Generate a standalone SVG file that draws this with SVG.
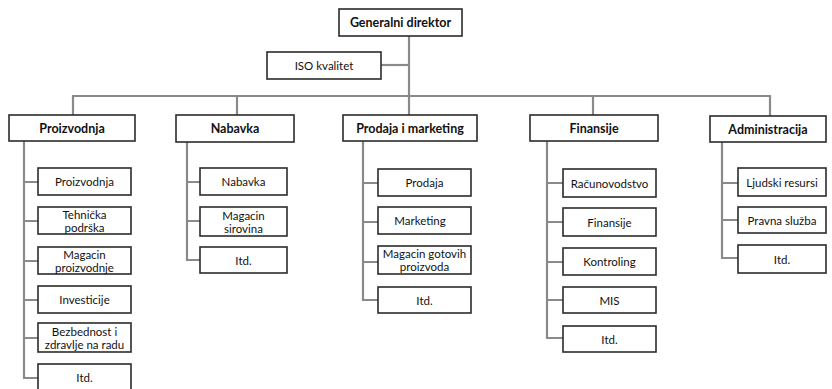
<svg xmlns="http://www.w3.org/2000/svg" width="832" height="389" viewBox="0 0 832 389">
  <style>
    .box { fill: #ffffff; stroke: #2b2b2b; stroke-width: 1.6; }
    .wire { fill: none; stroke: #8a8a8a; stroke-width: 2.2; }
    .t { font-family: Lato, "Liberation Sans", Arial, sans-serif; font-size: 11.5px; fill: #111111; text-anchor: middle; dominant-baseline: central; }
    .h { font-weight: bold; font-size: 12.5px; }
  </style>

  <!-- connectors -->
  <g id="connectors" class="wire">
    <!-- director to departments -->
    <path d="M409 36 V115"/>
    <path d="M381 65 H409"/>
    <path d="M73 115 V96 H770 V116"/>
    <path d="M237 96 V115"/>
    <path d="M593 96 V115"/>
    <!-- Proizvodnja sub-units -->
    <path d="M24 141 V378 H38"/>
    <path d="M24 182 H38 M24 221 H38 M24 261 H38 M24 300 H38 M24 338 H38"/>
    <!-- Nabavka sub-units -->
    <path d="M187 142 V260 H200"/>
    <path d="M187 182 H200 M187 221 H200"/>
    <!-- Prodaja i marketing sub-units -->
    <path d="M363 141 V300 H378"/>
    <path d="M363 183 H378 M363 222 H378 M363 262 H378"/>
    <!-- Finansije sub-units -->
    <path d="M547 141 V338 H563"/>
    <path d="M547 183 H563 M547 222 H563 M547 262 H563 M547 300 H563"/>
    <!-- Administracija sub-units -->
    <path d="M722 142 V258 H738"/>
    <path d="M722 183 H738 M722 220 H738"/>
  </g>

  <!-- top level -->
  <g id="generalni-direktor">
    <rect class="box" x="339" y="9" width="123" height="27"/>
    <text class="t h" x="400.5" y="22.5">Generalni direktor</text>
  </g>
  <g id="iso-kvalitet">
    <rect class="box" x="267" y="52" width="114" height="27"/>
    <text class="t" x="324" y="65.5">ISO kvalitet</text>
  </g>

  <!-- departments -->
  <g id="proizvodnja">
    <rect class="box" x="9" y="115" width="126" height="26"/>
    <text class="t h" x="72" y="128">Proizvodnja</text>
  </g>
  <g id="nabavka">
    <rect class="box" x="176" y="115" width="118" height="27"/>
    <text class="t h" x="235" y="128.5">Nabavka</text>
  </g>
  <g id="prodaja-i-marketing">
    <rect class="box" x="343" y="115" width="134" height="26"/>
    <text class="t h" x="410" y="128">Prodaja i marketing</text>
  </g>
  <g id="finansije">
    <rect class="box" x="530" y="115" width="128" height="26"/>
    <text class="t h" x="594" y="128">Finansije</text>
  </g>
  <g id="administracija">
    <rect class="box" x="710" y="116" width="116" height="26"/>
    <text class="t h" x="768" y="129">Administracija</text>
  </g>

  <!-- Proizvodnja units -->
  <g id="p-proizvodnja">
    <rect class="box" x="38" y="168" width="93" height="27"/>
    <text class="t" x="84.5" y="181.5">Proizvodnja</text>
  </g>
  <g id="p-tehnicka-podrska">
    <rect class="box" x="38" y="207" width="93" height="27"/>
    <text class="t" x="84.5" y="214">Tehnička</text>
    <text class="t" x="84.5" y="227">podrška</text>
  </g>
  <g id="p-magacin-proizvodnje">
    <rect class="box" x="38" y="247" width="93" height="27"/>
    <text class="t" x="84.5" y="254">Magacin</text>
    <text class="t" x="84.5" y="267">proizvodnje</text>
  </g>
  <g id="p-investicije">
    <rect class="box" x="38" y="286" width="93" height="27"/>
    <text class="t" x="84.5" y="299.5">Investicije</text>
  </g>
  <g id="p-bezbednost">
    <rect class="box" x="38" y="323" width="93" height="29"/>
    <text class="t" x="84.5" y="331">Bezbednost i</text>
    <text class="t" x="84.5" y="344.5">zdravlje na radu</text>
  </g>
  <g id="p-itd">
    <rect class="box" x="38" y="364" width="93" height="27"/>
    <text class="t" x="84.5" y="377.5">Itd.</text>
  </g>

  <!-- Nabavka units -->
  <g id="n-nabavka">
    <rect class="box" x="200" y="168" width="87" height="27"/>
    <text class="t" x="243.5" y="181.5">Nabavka</text>
  </g>
  <g id="n-magacin-sirovina">
    <rect class="box" x="200" y="207" width="87" height="29"/>
    <text class="t" x="243.5" y="215">Magacin</text>
    <text class="t" x="243.5" y="228.5">sirovina</text>
  </g>
  <g id="n-itd">
    <rect class="box" x="200" y="247" width="87" height="26"/>
    <text class="t" x="243.5" y="260">Itd.</text>
  </g>

  <!-- Prodaja i marketing units -->
  <g id="pm-prodaja">
    <rect class="box" x="378" y="169" width="93" height="27"/>
    <text class="t" x="424.5" y="182.5">Prodaja</text>
  </g>
  <g id="pm-marketing">
    <rect class="box" x="378" y="207" width="93" height="27"/>
    <text class="t" x="420" y="220.5">Marketing</text>
  </g>
  <g id="pm-magacin-gotovih">
    <rect class="box" x="378" y="246" width="93" height="28"/>
    <text class="t" x="424.5" y="253">Magacin gotovih</text>
    <text class="t" x="424.5" y="266.5">proizvoda</text>
  </g>
  <g id="pm-itd">
    <rect class="box" x="378" y="287" width="93" height="26"/>
    <text class="t" x="424.5" y="300">Itd.</text>
  </g>

  <!-- Finansije units -->
  <g id="f-racunovodstvo">
    <rect class="box" x="563" y="169" width="93" height="28"/>
    <text class="t" x="609.5" y="183">Računovodstvo</text>
  </g>
  <g id="f-finansije">
    <rect class="box" x="563" y="208" width="93" height="28"/>
    <text class="t" x="609.5" y="222">Finansije</text>
  </g>
  <g id="f-kontroling">
    <rect class="box" x="563" y="248" width="93" height="27"/>
    <text class="t" x="609.5" y="261.5">Kontroling</text>
  </g>
  <g id="f-mis">
    <rect class="box" x="563" y="287" width="93" height="26"/>
    <text class="t" x="609.5" y="300">MIS</text>
  </g>
  <g id="f-itd">
    <rect class="box" x="563" y="326" width="93" height="26"/>
    <text class="t" x="609.5" y="339">Itd.</text>
  </g>

  <!-- Administracija units -->
  <g id="a-ljudski-resursi">
    <rect class="box" x="738" y="168" width="88" height="28"/>
    <text class="t" x="782" y="182">Ljudski resursi</text>
  </g>
  <g id="a-pravna-sluzba">
    <rect class="box" x="738" y="207" width="88" height="26"/>
    <text class="t" x="782" y="220">Pravna služba</text>
  </g>
  <g id="a-itd">
    <rect class="box" x="738" y="245" width="88" height="28"/>
    <text class="t" x="782" y="259">Itd.</text>
  </g>
</svg>
